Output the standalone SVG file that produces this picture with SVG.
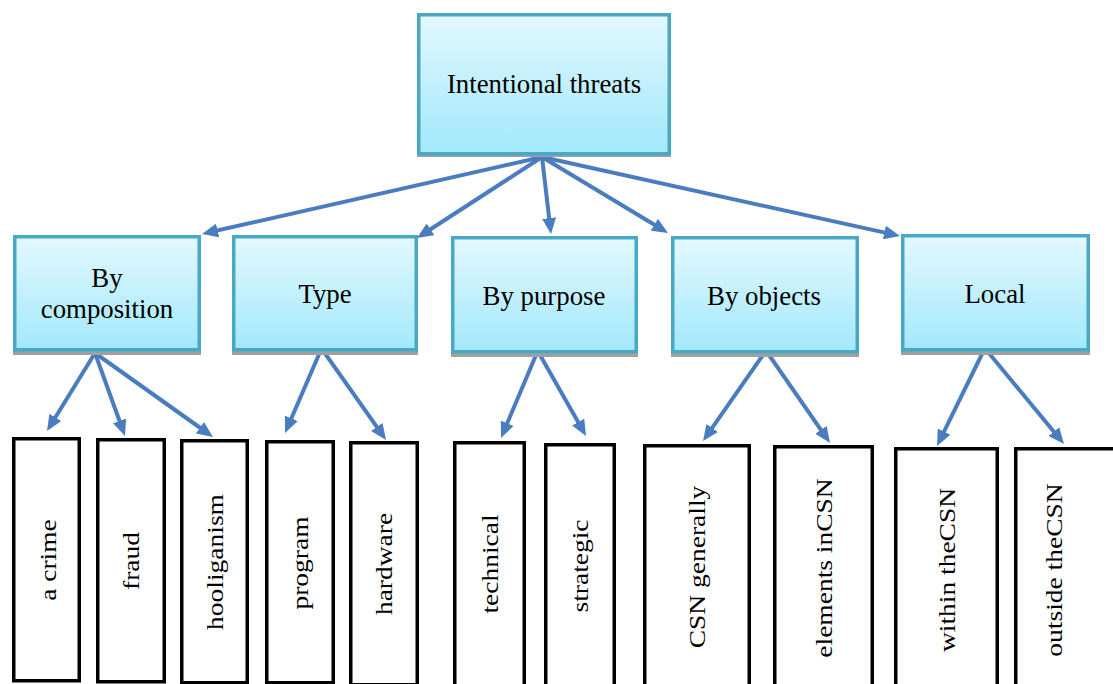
<svg xmlns="http://www.w3.org/2000/svg" width="1113" height="684" viewBox="0 0 1113 684">
<defs>
<linearGradient id="g" x1="0" y1="0" x2="0" y2="1">
<stop offset="0" stop-color="#e3f8fe"/>
<stop offset="1" stop-color="#a2e8fb"/>
</linearGradient>
<marker id="ah" markerUnits="userSpaceOnUse" markerWidth="16" markerHeight="14" refX="4" refY="7" orient="auto">
<path d="M0,0 L16,7 L0,14 z" fill="#4a7dbf"/>
</marker>
</defs>
<style>
.cat{fill:url(#g);stroke:#48a9c5;stroke-width:3.5}
.sh{fill:#a0a0a0}
.leaf{fill:#fff;stroke:#000;stroke-width:3.5}
.t{font-family:"Liberation Serif","Times New Roman",serif;font-size:26.8px;fill:#000;text-anchor:middle}
.v{font-family:"Liberation Serif","Times New Roman",serif;font-size:23.5px;fill:#000;text-anchor:middle}
.c{stroke:#4a7dbf;stroke-width:4;fill:none;marker-end:url(#ah)}
</style>
<g id="connectors">
<line class="c" x1="542" y1="157" x2="213.7" y2="231.3"/>
<line class="c" x1="542" y1="157" x2="427.1" y2="231.5"/>
<line class="c" x1="542" y1="157" x2="549.6" y2="222.1"/>
<line class="c" x1="542" y1="157" x2="657.7" y2="226.8"/>
<line class="c" x1="542" y1="157" x2="888.3" y2="233.4"/>
<line class="c" x1="95" y1="353" x2="53.3" y2="420.8"/>
<line class="c" x1="95" y1="353" x2="120.9" y2="424.7"/>
<line class="c" x1="95" y1="353" x2="203.2" y2="430.0"/>
<line class="c" x1="320" y1="352" x2="289.8" y2="422.0"/>
<line class="c" x1="324" y1="352" x2="379.1" y2="430.2"/>
<line class="c" x1="536" y1="355" x2="505.7" y2="426.9"/>
<line class="c" x1="540" y1="355" x2="580.1" y2="425.6"/>
<line class="c" x1="763" y1="355" x2="709.9" y2="431.2"/>
<line class="c" x1="769" y1="355" x2="823.2" y2="433.1"/>
<line class="c" x1="983" y1="352" x2="942.3" y2="435.2"/>
<line class="c" x1="988" y1="352" x2="1056.4" y2="434.7"/>
</g>
<g id="n-root">
<rect class="sh" x="417" y="153" width="254" height="4"/>
<rect class="cat" x="418.75" y="14.75" width="250.5" height="139"/>
<text class="t" x="544" y="93">Intentional threats</text>
</g>
<g id="n-composition">
<rect class="sh" x="13" y="350" width="188" height="5"/>
<rect class="cat" x="14.75" y="236.75" width="184.5" height="113"/>
<text class="t" x="107" y="287">By</text>
<text class="t" x="107" y="318">composition</text>
</g>
<g id="n-type">
<rect class="sh" x="232" y="350" width="186" height="5"/>
<rect class="cat" x="233.75" y="236.75" width="182.5" height="113"/>
<text class="t" x="325" y="303">Type</text>
</g>
<g id="n-purpose">
<rect class="sh" x="451" y="352" width="187" height="5"/>
<rect class="cat" x="452.75" y="237.75" width="183.5" height="114"/>
<text class="t" x="544" y="305">By purpose</text>
</g>
<g id="n-objects">
<rect class="sh" x="671" y="352" width="188" height="5"/>
<rect class="cat" x="672.75" y="237.75" width="184.5" height="114"/>
<text class="t" x="764" y="305">By objects</text>
</g>
<g id="n-local">
<rect class="sh" x="901" y="350" width="189" height="5"/>
<rect class="cat" x="902.75" y="235.75" width="185.5" height="114"/>
<text class="t" x="995" y="303">Local</text>
</g>
<g id="n-crime">
<rect class="leaf" x="13.75" y="438.75" width="65.5" height="242"/>
<text class="v" transform="translate(55.5,560) rotate(-90) scale(1.17,1)">a crime</text>
</g>
<g id="n-fraud">
<rect class="leaf" x="97.75" y="439.75" width="66.5" height="242"/>
<text class="v" transform="translate(139,561) rotate(-90) scale(1.17,1)">fraud</text>
</g>
<g id="n-hooliganism">
<rect class="leaf" x="181.75" y="440.75" width="65.5" height="242"/>
<text class="v" transform="translate(223,562) rotate(-90) scale(1.17,1)">hooliganism</text>
</g>
<g id="n-program">
<rect class="leaf" x="266.75" y="441.75" width="66.5" height="241"/>
<text class="v" transform="translate(308,563) rotate(-90) scale(1.17,1)">program</text>
</g>
<g id="n-hardware">
<rect class="leaf" x="350.75" y="442.75" width="66.5" height="242"/>
<text class="v" transform="translate(392,564) rotate(-90) scale(1.17,1)">hardware</text>
</g>
<g id="n-technical">
<rect class="leaf" x="454.75" y="442.75" width="69.5" height="260"/>
<text class="v" transform="translate(497.5,564) rotate(-90) scale(1.17,1)">technical</text>
</g>
<g id="n-strategic">
<rect class="leaf" x="545.75" y="444.75" width="68.5" height="260"/>
<text class="v" transform="translate(588,566) rotate(-90) scale(1.17,1)">strategic</text>
</g>
<g id="n-csn-generally">
<rect class="leaf" x="644.75" y="445.75" width="104.5" height="260"/>
<text class="v" transform="translate(705,567) rotate(-90) scale(1.17,1)">CSN generally</text>
</g>
<g id="n-elements">
<rect class="leaf" x="774.75" y="446.75" width="97.5" height="260"/>
<text class="v" transform="translate(831.5,568) rotate(-90) scale(1.17,1)">elements inCSN</text>
</g>
<g id="n-within">
<rect class="leaf" x="895.75" y="448.75" width="101.5" height="260"/>
<text class="v" transform="translate(954.5,570) rotate(-90) scale(1.17,1)">within theCSN</text>
</g>
<g id="n-outside">
<rect class="leaf" x="1015.75" y="448.75" width="110" height="260"/>
<text class="v" transform="translate(1062,570) rotate(-90) scale(1.17,1)">outside theCSN</text>
</g>
</svg>
